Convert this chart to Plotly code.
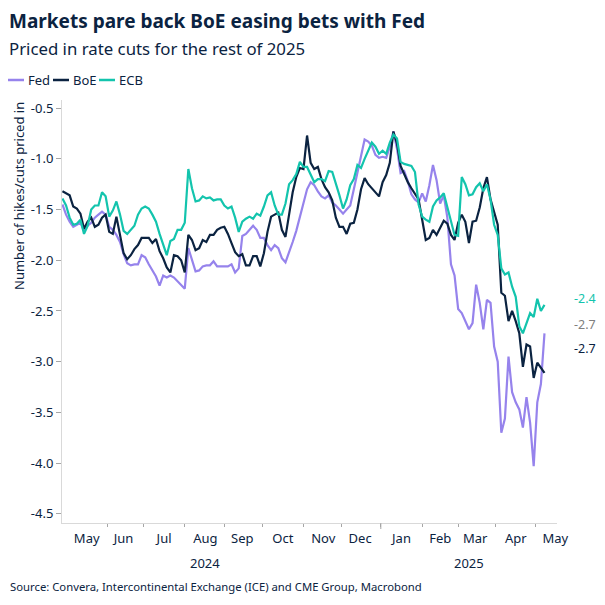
import pandas as pd
import plotly.graph_objects as go

# ---------------- data ----------------
series_names = ["Fed", "BoE", "ECB"]
series_colors = {"Fed": "#9683ec", "BoE": "#0b2341", "ECB": "#13c4ad"}

start_date = "2024-04-29"
end_date = "2025-05-08"

fed = [-1.45,-1.55,-1.62,-1.67,-1.65,-1.63,-1.71,-1.66,-1.63,-1.58,
       -1.55,-1.52,-1.55,-1.67,-1.70,-1.75,-1.82,-1.94,-2.03,-2.05,
       -2.04,-2.04,-1.95,-1.97,-2.04,-2.10,-2.16,-2.25,-2.15,-2.17,
       -2.15,-2.17,-2.21,-2.25,-2.28,-1.88,-2.00,-2.11,-2.10,-2.06,
       -2.05,-2.05,-2.01,-2.06,-2.06,-2.06,-2.06,-2.04,-2.12,-2.08,
       -1.76,-1.74,-1.70,-1.66,-1.70,-1.78,-1.78,-1.85,-1.90,-1.85,
       -1.88,-1.98,-2.02,-1.93,-1.82,-1.71,-1.57,-1.44,-1.30,-1.23,
       -1.26,-1.32,-1.37,-1.39,-1.36,-1.43,-1.46,-1.50,-1.54,-1.50,
       -1.46,-1.30,-1.13,-0.95,-0.81,-0.83,-0.87,-0.96,-0.99,-0.98,
       -0.99,-0.88,-0.73,-0.90,-1.14,-1.12,-1.22,-1.35,-1.40,-1.43,
       -1.34,-1.42,-1.26,-1.06,-1.21,-1.44,-1.36,-1.58,-2.04,-2.15,
       -2.48,-2.52,-2.60,-2.68,-2.62,-2.24,-2.42,-2.68,-2.39,-2.42,
       -2.85,-3.00,-3.70,-3.56,-2.95,-3.30,-3.40,-3.47,-3.65,-3.35,
       -3.60,-4.03,-3.40,-3.22,-2.72]

boe = [-1.32,-1.34,-1.36,-1.47,-1.49,-1.54,-1.69,-1.62,-1.58,-1.67,
       -1.65,-1.58,-1.55,-1.72,-1.74,-1.57,-1.74,-1.93,-1.99,-1.95,
       -1.89,-1.85,-1.78,-1.78,-1.78,-1.83,-1.79,-1.91,-1.98,-2.07,
       -2.12,-1.95,-1.96,-2.00,-2.12,-1.75,-1.80,-1.90,-1.88,-1.80,
       -1.82,-1.75,-1.75,-1.70,-1.68,-1.67,-1.74,-1.83,-1.92,-1.96,
       -1.94,-2.05,-2.05,-1.96,-1.96,-2.06,-1.93,-1.72,-1.57,-1.55,
       -1.53,-1.70,-1.77,-1.55,-1.33,-1.18,-1.09,-1.10,-0.77,-1.04,
       -1.10,-1.08,-1.20,-1.28,-1.33,-1.41,-1.58,-1.67,-1.67,-1.74,
       -1.64,-1.63,-1.50,-1.30,-1.19,-1.25,-1.29,-1.32,-1.37,-1.23,
       -1.16,-1.04,-0.73,-0.85,-1.07,-1.15,-1.23,-1.29,-1.34,-1.40,
       -1.60,-1.80,-1.78,-1.70,-1.75,-1.68,-1.61,-1.64,-1.75,-1.80,
       -1.63,-1.55,-1.62,-1.83,-1.62,-1.61,-1.48,-1.29,-1.18,-1.40,
       -1.53,-1.65,-2.32,-2.35,-2.60,-2.50,-2.60,-2.72,-3.05,-2.83,
       -2.85,-3.16,-3.01,-3.06,-3.11]

ecb = [-1.39,-1.46,-1.58,-1.65,-1.64,-1.60,-1.74,-1.66,-1.50,-1.46,
       -1.46,-1.33,-1.37,-1.57,-1.51,-1.42,-1.55,-1.71,-1.74,-1.70,
       -1.66,-1.55,-1.49,-1.47,-1.49,-1.55,-1.62,-1.74,-1.85,-1.95,
       -1.81,-1.79,-1.70,-1.70,-1.63,-1.10,-1.29,-1.42,-1.41,-1.37,
       -1.39,-1.38,-1.41,-1.40,-1.40,-1.46,-1.49,-1.47,-1.58,-1.72,
       -1.62,-1.59,-1.57,-1.59,-1.54,-1.56,-1.47,-1.36,-1.33,-1.46,
       -1.55,-1.55,-1.44,-1.25,-1.21,-1.15,-1.03,-1.08,-1.08,-1.16,
       -1.23,-1.20,-1.20,-1.22,-1.12,-1.13,-1.24,-1.36,-1.49,-1.40,
       -1.26,-1.20,-1.06,-1.09,-1.00,-0.92,-0.84,-0.88,-0.95,-0.92,
       -0.95,-0.84,-0.76,-0.80,-1.03,-1.05,-1.06,-1.07,-1.13,-1.45,
       -1.57,-1.60,-1.62,-1.47,-1.41,-1.38,-1.34,-1.48,-1.63,-1.75,
       -1.76,-1.18,-1.25,-1.36,-1.35,-1.28,-1.24,-1.32,-1.25,-1.40,
       -1.65,-1.75,-2.08,-2.14,-2.12,-2.26,-2.36,-2.65,-2.72,-2.62,
       -2.52,-2.56,-2.38,-2.50,-2.44]

end_labels = [("-2.4", "ECB", -2.38), ("-2.7", "Fed", -2.63), ("-2.7", "BoE", -2.87)]
end_label_colors = {"ECB": "#13c4ad", "Fed": "#808080", "BoE": "#0b2341"}

y_tickvals = [-0.5, -1.0, -1.5, -2.0, -2.5, -3.0, -3.5, -4.0, -4.5]
y_ticktext = ["-0.5", "-1.0", "-1.5", "-2.0", "-2.5", "-3.0", "-3.5", "-4.0", "-4.5"]
year_labels = [("2024", "2024-08-16"), ("2025", "2025-03-11")]

title = "Markets pare back BoE easing bets with Fed"
subtitle = "Priced in rate cuts for the rest of 2025"
y_title = "Number of hikes/cuts priced in"
source = "Source: Convera, Intercontinental Exchange (ICE) and CME Group, Macrobond"

# dates: every second business day
dates = pd.bdate_range(start_date, end_date)[::2]
values = {"Fed": fed, "BoE": boe, "ECB": ecb}

# ---------------- layout geometry ----------------
W, H = 605, 605
L, R, T, B = 62, 48, 100, 82
PW, PH = W - L - R, H - T - B
FONT = "Noto Sans"
NAVY = "#0b2341"


def pxx(x):
    return (x - L) / PW


def pxy(y):
    return (H - B - y) / PH


fig = go.Figure()
for name in series_names:
    fig.add_trace(go.Scatter(
        x=dates, y=values[name], mode="lines", name=name,
        line=dict(color=series_colors[name], width=2.2),
        showlegend=False,
    ))

annotations = []
shapes = []

# title / subtitle / source
annotations.append(dict(text="<b>" + title + "</b>", x=pxx(7), y=pxy(21), xref="paper", yref="paper",
                        xanchor="left", yanchor="middle", showarrow=False,
                        font=dict(family=FONT, size=19, color=NAVY)))
annotations.append(dict(text=subtitle, x=pxx(7), y=pxy(48), xref="paper", yref="paper",
                        xanchor="left", yanchor="middle", showarrow=False,
                        font=dict(family=FONT, size=16.8, color=NAVY)))
annotations.append(dict(text=source, x=pxx(8), y=pxy(586), xref="paper", yref="paper",
                        xanchor="left", yanchor="middle", showarrow=False,
                        font=dict(family=FONT, size=11.3, color=NAVY)))

# manual legend
leg_x = {"Fed": 8, "BoE": 53, "ECB": 99}
for name in series_names:
    x0 = leg_x[name]
    shapes.append(dict(type="line", xref="paper", yref="paper",
                       x0=pxx(x0), x1=pxx(x0 + 16), y0=pxy(80), y1=pxy(80),
                       line=dict(color=series_colors[name], width=2.5)))
    annotations.append(dict(text=name, x=pxx(x0 + 18), y=pxy(80), xref="paper", yref="paper",
                            xanchor="left", yanchor="middle", showarrow=False,
                            font=dict(family=FONT, size=13, color=NAVY)))

# y axis title (top aligned)
annotations.append(dict(text=y_title, x=pxx(19), y=pxy(100), xref="paper", yref="paper",
                        xanchor="center", yanchor="top", textangle=-90, showarrow=False,
                        font=dict(family=FONT, size=13, color=NAVY)))

# year labels
for txt, d in year_labels:
    annotations.append(dict(text=txt, x=d, y=pxy(563), xref="x", yref="paper",
                            xanchor="center", yanchor="middle", showarrow=False,
                            font=dict(family=FONT, size=13, color=NAVY)))

# end labels
for txt, name, yv in end_labels:
    annotations.append(dict(text=txt, x=pxx(572), y=yv, xref="paper", yref="y",
                            xanchor="left", yanchor="middle", showarrow=False,
                            font=dict(family=FONT, size=12.5, color=end_label_colors[name])))

# taller tick at the year boundary
shapes.append(dict(type="line", xref="x", yref="paper", x0="2025-01-01", x1="2025-01-01",
                   y0=0, y1=-6 / PH, line=dict(color="#a6a6a6", width=1)))

fig.update_layout(
    width=W, height=H,
    margin=dict(l=L, r=R, t=T, b=B),
    paper_bgcolor="white", plot_bgcolor="white",
    font=dict(family=FONT, color=NAVY, size=13),
    annotations=annotations, shapes=shapes,
    showlegend=False,
)
fig.update_xaxes(
    type="date",
    range=["2024-04-26 18:00", "2025-05-16 23:00"],
    rangebreaks=[dict(bounds=["sat", "mon"])],
    dtick="M1", tick0="2024-05-01", tickformat="%b", ticklabelmode="period",
    ticks="outside", ticklen=3, tickcolor="#a6a6a6",
    showline=True, linecolor="#d9d9d9", linewidth=1,
    showgrid=False, zeroline=False,
    tickfont=dict(family=FONT, size=13, color=NAVY),
)
fig.update_yaxes(
    range=[-4.59, -0.42],
    tickvals=y_tickvals, ticktext=y_ticktext,
    ticks="outside", ticklen=5, tickcolor="#a6a6a6",
    showline=True, linecolor="#d9d9d9", linewidth=1,
    showgrid=False, zeroline=False,
    tickfont=dict(family=FONT, size=13, color=NAVY),
)

fig.write_html("out.html")
